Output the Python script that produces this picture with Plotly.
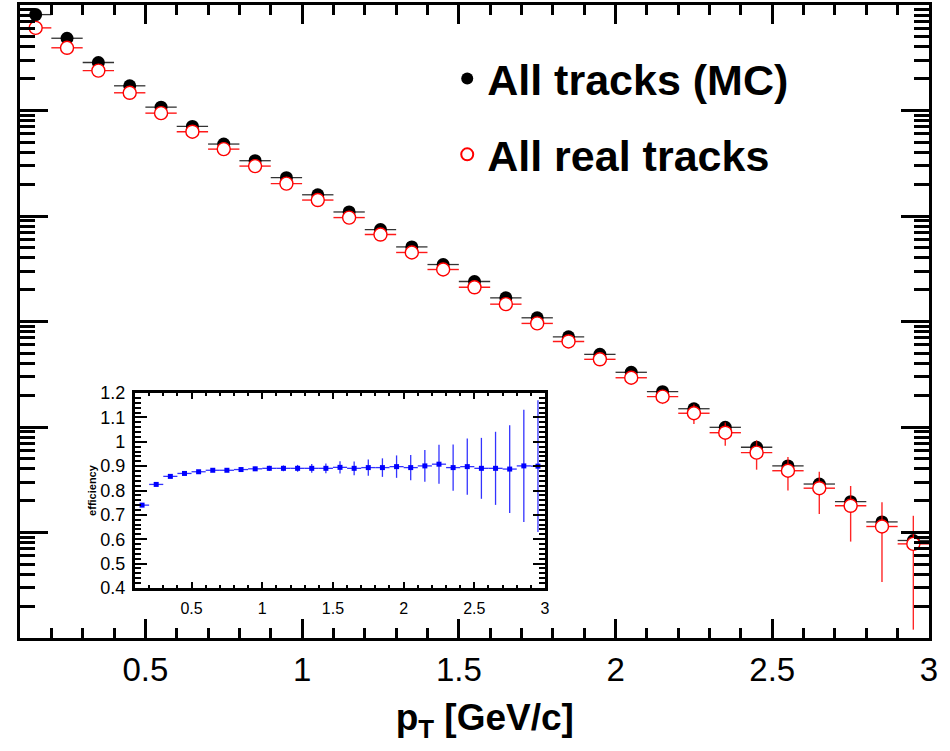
import plotly.graph_objects as go

# ---------------- data ----------------
pt_centers = [0.15, 0.25, 0.35, 0.45, 0.55, 0.65, 0.75, 0.85, 0.95, 1.05,
              1.15, 1.25, 1.35, 1.45, 1.55, 1.65, 1.75, 1.85, 1.95, 2.05,
              2.15, 2.25, 2.35, 2.45, 2.55, 2.65, 2.75, 2.85, 2.95]
bin_half_width = [0.05] * 29

mc_tracks = [811000, 484000, 285000, 171400, 107600, 70630, 48080, 33420, 23070, 15890,
             10920, 7430, 5093, 3467, 2393, 1675, 1084, 716, 488, 330,
             216, 149, 99.3, 64.3, 42.8, 28.8, 19.6, 12.6, 8.4]

real_tracks = [607000, 393000, 239000, 147200, 94400, 62950, 43050, 29720, 20280, 14160,
               9660, 6670, 4510, 3110, 2110, 1460, 959, 647, 438, 293,
               194, 135, 88.3, 57.1, 38.5, 26.3, 17.9, 11.4, 7.8]
real_tracks_err = [300, 220, 160, 110, 80, 60, 45, 35, 30, 25,
                   20, 16, 13, 11, 10, 9, 8, 8, 9, 29,
                   29, 28, 22, 17.7, 13.5, 11.3, 9.7, 8.0, 6.6]

efficiency = [0.740, 0.825, 0.858, 0.870, 0.877, 0.883, 0.883, 0.886, 0.889, 0.891,
              0.891, 0.891, 0.891, 0.891, 0.895, 0.891, 0.894, 0.894, 0.898, 0.894,
              0.901, 0.908, 0.894, 0.898, 0.891, 0.891, 0.888, 0.901, 0.900]
efficiency_err = [0.004, 0.004, 0.004, 0.005, 0.005, 0.006, 0.007, 0.008, 0.009, 0.011,
                  0.012, 0.014, 0.018, 0.020, 0.025, 0.028, 0.033, 0.038, 0.046, 0.052,
                  0.065, 0.080, 0.095, 0.115, 0.125, 0.150, 0.180, 0.230, 0.270]

unity = 1.0
x_tick_vals = [0.5, 1, 1.5, 2, 2.5, 3]
x_tick_text = ["0.5", "1", "1.5", "2", "2.5", "3"]
eff_tick_vals = [0.4, 0.5, 0.6, 0.7, 0.8, 0.9, 1.0, 1.1, 1.2]
eff_tick_text = ["0.4", "0.5", "0.6", "0.7", "0.8", "0.9", "1", "1.1", "1.2"]

FONT = "Liberation Sans, Arial, Helvetica, sans-serif"

fig = go.Figure()

fig.add_trace(go.Scatter(
    x=pt_centers, y=mc_tracks, mode="markers", name="<b>All tracks (MC)</b>",
    legendgroup="a",
    marker=dict(symbol="circle", size=13, color="black"),
    error_x=dict(type="data", array=bin_half_width, color="rgba(0,0,0,0.8)",
                 thickness=1.3, width=0),
    xaxis="x", yaxis="y"))

fig.add_trace(go.Scatter(
    x=pt_centers, y=real_tracks, mode="markers", name="<b>All real tracks</b>",
    legendgroup="b",
    marker=dict(symbol="circle", size=13, color="white",
                line=dict(color="red", width=1.4)),
    error_x=dict(type="data", array=bin_half_width, color="rgba(255,0,0,0.9)",
                 thickness=1.4, width=0),
    error_y=dict(type="data", array=real_tracks_err, color="rgba(255,0,0,0.85)",
                 thickness=1.4, width=0),
    xaxis="x", yaxis="y"))

fig.add_trace(go.Scatter(
    x=pt_centers, y=efficiency, mode="markers", showlegend=False,
    marker=dict(symbol="square", size=5, color="blue"),
    error_x=dict(type="data", array=bin_half_width, color="rgba(0,0,255,0.8)",
                 thickness=1.3, width=0),
    error_y=dict(type="data", array=efficiency_err, color="rgba(0,0,255,0.8)",
                 thickness=1.3, width=0),
    xaxis="x2", yaxis="y2"))

fig.add_shape(type="line", xref="x2 domain", yref="y2", x0=0, x1=1,
              y0=unity, y1=unity, line=dict(color="black", width=2, dash="dot"),
              layer="below")

main_x_dom = [0, 1]
inset_x_dom = [0.1265, 0.5776]
inset_y_dom = [0.079, 0.387]

fig.update_layout(
    width=950, height=751,
    margin=dict(l=20, r=21, t=5, b=113, autoexpand=False),
    paper_bgcolor="white", plot_bgcolor="white",
    font=dict(family=FONT, color="black"),
    showlegend=True,
    legend=dict(x=0.470, y=0.9384, xanchor="left", yanchor="top",
                bgcolor="rgba(0,0,0,0)", font=dict(size=43, family=FONT),
                tracegroupgap=17, itemsizing="constant"),
    xaxis=dict(
        domain=main_x_dom, range=[0.1, 3], showgrid=False, zeroline=False,
        showline=True, linecolor="black", linewidth=3, mirror="ticks",
        ticks="inside", ticklen=19, tickwidth=2.5, tickcolor="black",
        tickvals=x_tick_vals, ticktext=x_tick_text,
        tickfont=dict(size=33, family=FONT), ticklabelstandoff=0,
        minor=dict(dtick=0.1, tick0=0.1, ticks="inside", ticklen=10,
                   tickwidth=2.5, tickcolor="black", showgrid=False),
        title=dict(text="&nbsp;&nbsp;<b>p<sub>T</sub> [GeV/c]</b>",
                   font=dict(size=37, family=FONT), standoff=18),
    ),
    yaxis=dict(
        type="log", range=[0, 6], showgrid=False, zeroline=False,
        showline=True, linecolor="black", linewidth=3, mirror="ticks",
        ticks="inside", ticklen=28, tickwidth=2.5, tickcolor="black",
        dtick=1, showticklabels=False,
        minor=dict(dtick="D1", ticks="inside", ticklen=15, tickwidth=2.5,
                   tickcolor="black", showgrid=False),
    ),
    xaxis2=dict(
        domain=inset_x_dom, anchor="y2", range=[0.1, 3], showgrid=False,
        zeroline=False, showline=True, linecolor="black", linewidth=3,
        mirror="ticks", ticks="inside", ticklen=6, tickwidth=2, tickcolor="black",
        tickvals=x_tick_vals, ticktext=x_tick_text,
        tickfont=dict(size=16, family=FONT), ticklabelstandoff=4,
        minor=dict(dtick=0.1, tick0=0.1, ticks="inside", ticklen=3,
                   tickwidth=2, tickcolor="black", showgrid=False),
    ),
    yaxis2=dict(
        domain=inset_y_dom, anchor="x2", range=[0.4, 1.2], showgrid=False,
        zeroline=False, showline=True, linecolor="black", linewidth=3,
        mirror="ticks", ticks="inside", ticklen=12, tickwidth=2, tickcolor="black",
        tickvals=eff_tick_vals, ticktext=eff_tick_text,
        tickfont=dict(size=18, family=FONT), ticklabelstandoff=3,
        minor=dict(dtick=0.02, tick0=0.4, ticks="inside", ticklen=6,
                   tickwidth=2, tickcolor="black", showgrid=False),
        title=dict(text="<b>efficiency</b>", font=dict(size=11, family=FONT),
                   standoff=2),
    ),
)

fig.write_html("out.html", post_script="document.body.style.margin='0';",
               config={"displayModeBar": False})
